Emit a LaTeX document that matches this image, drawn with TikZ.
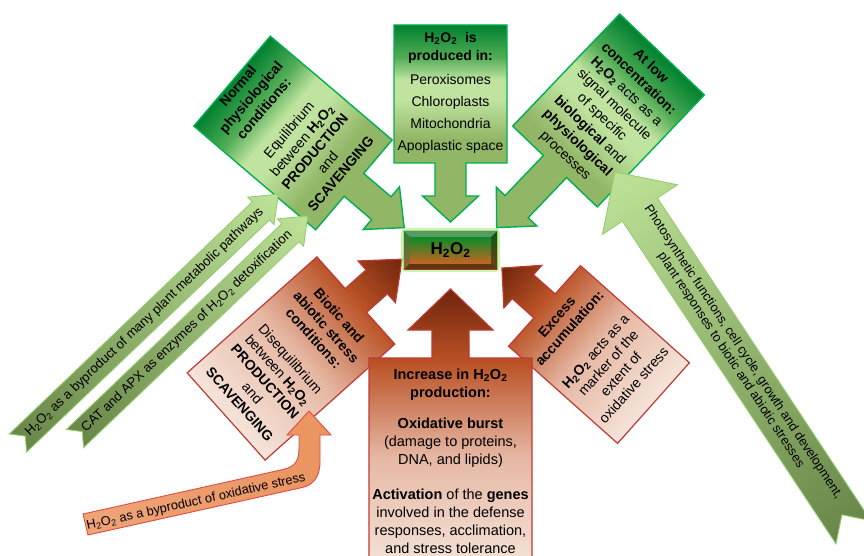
\documentclass[tikz,border=0pt]{standalone}
\usepackage{fontspec}
\setmainfont{Liberation Sans}
\usepackage{tikz}
\usetikzlibrary{positioning}

\definecolor{gdark}{RGB}{0,128,48}
\definecolor{gmid}{RGB}{80,172,84}
\definecolor{glight}{RGB}{192,228,160}
\definecolor{golive}{RGB}{145,182,102}
\definecolor{gborder}{RGB}{0,176,80}
\definecolor{rdark}{RGB}{112,36,12}
\definecolor{rorange}{RGB}{186,82,38}
\definecolor{rpink}{RGB}{230,184,164}
\definecolor{rlight}{RGB}{245,228,218}
\definecolor{rborder}{RGB}{190,58,52}
\definecolor{ribtail}{RGB}{104,134,72}
\definecolor{ribhead}{RGB}{190,226,152}
\definecolor{ribborder}{RGB}{150,205,112}
\definecolor{otail}{RGB}{238,164,122}
\definecolor{ohead}{RGB}{234,148,96}
\definecolor{oborder}{RGB}{222,78,66}
\definecolor{hgreen}{RGB}{8,140,40}
\definecolor{hbrown}{RGB}{196,100,34}
\definecolor{hglow}{RGB}{165,228,115}

\pgfdeclareverticalshading{greenfill}{100bp}{color(0bp)=(golive); color(46bp)=(golive);
  color(56bp)=(glight); color(61bp)=(glight); color(67bp)=(gmid); color(75bp)=(gdark); color(100bp)=(gdark)}
\pgfdeclareverticalshading{redfill}{100bp}{color(0bp)=(rlight); color(25bp)=(rlight);
  color(45bp)=(rpink); color(62bp)=(rorange); color(75bp)=(rdark); color(100bp)=(rdark)}

\newcommand{\hperox}{H\textsubscript{2}O\textsubscript{2}}
% box with an arrow on one side: width, height, shaft, head base, head, tip, direction
\newcommand{\boxarrow}[7]{({-#1/2},{-(#7)*#2/2}) -- ({#1/2},{-(#7)*#2/2}) -- ({#1/2},{(#7)*#2/2})
  -- ({#3},{(#7)*#2/2}) -- ({#3},{(#7)*#4}) -- ({#5},{(#7)*#4}) -- (0,{(#7)*#6})
  -- ({-#5},{(#7)*#4}) -- ({-#3},{(#7)*#4}) -- ({-#3},{(#7)*#2/2}) -- ({-#1/2},{(#7)*#2/2}) -- cycle}
% ribbon arrow from tail to tip: length, half width, head length, head half, notch
\newcommand{\ribbonpath}[5]{(0,{-#2}) -- ({#1-#3},{-#2}) -- ({#1-#3},{-#4}) -- (#1,0)
  -- ({#1-#3},{#4}) -- ({#1-#3},{#2}) -- (0,{#2}) -- (#5,0) -- cycle}

\begin{document}
\begin{tikzpicture}[x=1pt, y=-1pt,
    greenbox/.style={shade, shading=greenfill, draw=gborder, line width=1.4pt},
    redbox/.style={shade, shading=redfill, draw=rborder, line width=1.2pt},
    boxtext/.style={align=center, inner sep=0pt, font=\fontsize{14}{17}\selectfont},
    ribbon/.style={shade, left color=ribtail, right color=ribhead, draw=ribborder, line width=0.9pt},
    ribtext/.style={align=center, inner sep=0pt, font=\fontsize{12.8}{14.5}\selectfont},
]
\useasboundingbox (0,0) rectangle (864,556);

% Green boxes
\begin{scope}[transform canvas={shift={(450.5,94)}}]
  \path[greenbox] \boxarrow{113}{138}{15.5}{102}{28}{128}{1};
  \node[boxtext, font=\fontsize{14}{18}\selectfont] (produced) at (0,-46) {\textbf{\hperox~ is}\\\textbf{produced in:}};
  \node[boxtext, font=\fontsize{14}{22}\selectfont] (sites) at (0,20) {Peroxisomes\\Chloroplasts\\Mitochondria\\Apoplastic space};
\end{scope}
\begin{scope}[transform canvas={shift={(293,133)}, rotate=49.6}]
  \path[greenbox] \boxarrow{118}{160}{15}{116}{28}{146}{1};
  \node[boxtext] (normal) at (0,-5) {\textbf{Normal}\\\textbf{physiological}\\\textbf{conditions:}\\[16pt]
    Equilibrium\\between \textbf{\hperox}\\\textbf{PRODUCTION}\\and\\\textbf{SCAVENGING}};
\end{scope}
\begin{scope}[transform canvas={shift={(608.5,110.5)}, rotate=-43.7}]
  \path[greenbox] \boxarrow{117}{155}{16}{133}{28}{162}{1};
  \node[boxtext, font=\fontsize{14}{17.7}\selectfont] (lowconc) at (0,1) {\textbf{At low}\\\textbf{concentration:}\\
    \textbf{\hperox} acts as a\\signal molecule\\of specific\\\textbf{biological} and\\\textbf{physiological}\\processes};
\end{scope}

% Red boxes
\begin{scope}[transform canvas={shift={(291,358.5)}, rotate=-48.2}]
  \path[redbox] \boxarrow{117}{174}{16}{115}{28}{149}{-1};
  \node[boxtext] (biotic) at (0,2) {\textbf{Biotic and}\\\textbf{abiotic stress}\\\textbf{conditions:}\\[14pt]
    Disequilibrium\\between \textbf{\hperox}\\\textbf{PRODUCTION}\\and\\\textbf{SCAVENGING}};
\end{scope}
\begin{scope}[transform canvas={shift={(599,354.5)}, rotate=48.3}]
  \path[redbox] \boxarrow{108}{146}{16}{102}{28.5}{130}{-1};
  \node[boxtext] (excess) at (0,-5) {\textbf{Excess}\\\textbf{accumulation:}\\[18pt]
    \textbf{\hperox} acts as a\\marker of the\\extent of\\oxidative stress};
\end{scope}
\begin{scope}[transform canvas={shift={(450.5,464)}}]
  \path[redbox] \boxarrow{163}{212}{18.5}{134}{42.5}{175}{-1};
  \node[boxtext, font=\fontsize{14.5}{18}\selectfont] (increase) at (0,-2.5) {\textbf{Increase in \hperox}\\\textbf{production:}\\[13pt]
    \textbf{Oxidative burst}\\(damage to proteins,\\DNA, and lipids)\\[17pt]
    \textbf{Activation} of the \textbf{genes}\\involved in the defense\\responses, acclimation,\\and stress tolerance};
\end{scope}

% H2O2 in the centre
\draw[hglow, line width=6pt, opacity=0.5, rounded corners=2pt] (404,231) rectangle (497,269);
\draw[hglow, line width=2.5pt] (404,231) rectangle (497,269);
\shade[top color=hgreen!80!black, bottom color=hbrown!75!black] (404,231) rectangle (497,269);
\fill[white, opacity=0.3] (404,231) -- (497,231) -- (491,237) -- (410,237) -- cycle;
\fill[black, opacity=0.3] (404,269) -- (497,269) -- (491,263) -- (410,263) -- cycle;
\fill[white, opacity=0.12] (404,231) -- (410,237) -- (410,263) -- (404,269) -- cycle;
\fill[black, opacity=0.2] (497,231) -- (491,237) -- (491,263) -- (497,269) -- cycle;
\shade[top color=hgreen, bottom color=hbrown] (410,237) rectangle (491,263);
\node[inner sep=0pt, font=\fontsize{17}{20}\selectfont\bfseries] (h2o2) at (450.5,250) {\hperox};

% Ribbons
\begin{scope}[transform canvas={shift={(18,443)}, rotate=43.7}]
  \path[ribbon] \ribbonpath{360}{12.5}{24}{19}{10};
  \node[ribtext, font=\fontsize{13.2}{15}\selectfont] (metabolic) at (175,0) {\hperox\ as a byproduct of many plant metabolic pathways};
\end{scope}
\begin{scope}[transform canvas={shift={(75,438.5)}, rotate=43.7}]
  \path[ribbon] \ribbonpath{322}{12.5}{24}{19}{10};
  \node[ribtext, font=\fontsize{13.2}{15}\selectfont] (detox) at (155,0) {CAT and APX as enzymes of \hperox\ detoxification};
\end{scope}
\begin{scope}[transform canvas={shift={(853.5,532.3)}, rotate=123.5}]
  \path[ribbon] \ribbonpath{432}{21}{45}{45}{21};
  \node[ribtext, rotate=180] (functions) at (211,0) {Photosynthetic functions, cell cycle, growth and development,\\plant responses to biotic and abiotic stresses};
\end{scope}

% Curved orange ribbon
\shade[left color=otail, right color=ohead, draw=oborder, line width=0.9pt]
  (83,514) -- (283,469.5) .. controls (296,466.5) and (299,460) .. (299,448) -- (299,435)
  -- (287,435) -- (309,411) -- (331,435) -- (320,435) -- (320,462)
  .. controls (320,478) and (312,486) .. (300,488) -- (88,535) -- cycle;
\node[ribtext, rotate=12.6] (oxstress) at (196,502) {\hperox\ as a byproduct of oxidative stress};

\end{tikzpicture}
\end{document}
